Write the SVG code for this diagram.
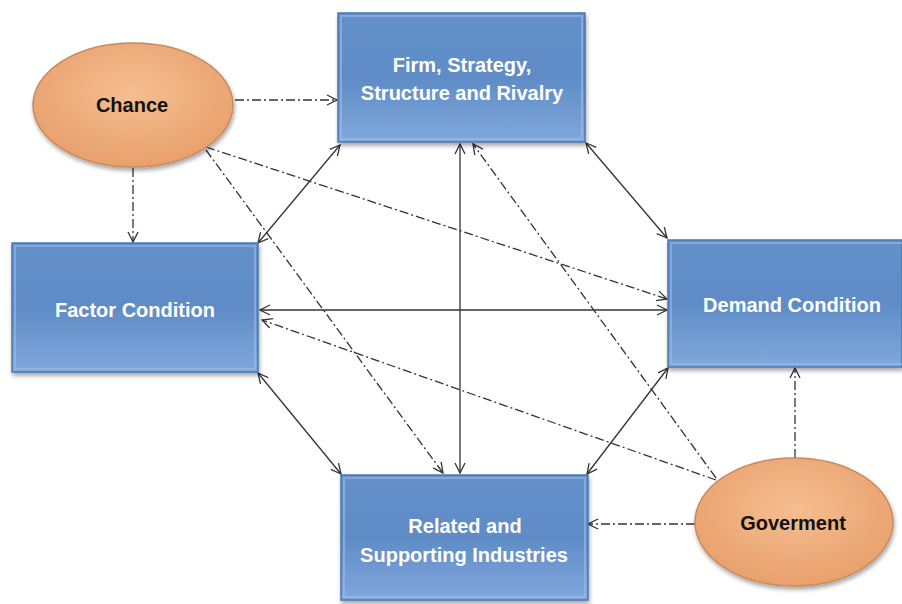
<svg xmlns="http://www.w3.org/2000/svg" width="902" height="604" viewBox="0 0 902 604">
<defs>
  <linearGradient id="boxg" x1="0" y1="0" x2="0" y2="1">
    <stop offset="0" stop-color="#6390c9"/>
    <stop offset="0.5" stop-color="#5f8cc6"/>
    <stop offset="1" stop-color="#80a8dc"/>
  </linearGradient>
  <radialGradient id="ellg" cx="0.5" cy="0.4" r="0.6">
    <stop offset="0" stop-color="#f6be91"/>
    <stop offset="1" stop-color="#e8a06c"/>
  </radialGradient>
  <filter id="sh" x="-10%" y="-10%" width="120%" height="130%">
    <feGaussianBlur in="SourceAlpha" stdDeviation="2"/>
    <feOffset dx="1" dy="3" result="b"/>
    <feComponentTransfer><feFuncA type="linear" slope="0.35"/></feComponentTransfer>
    <feMerge><feMergeNode/><feMergeNode in="SourceGraphic"/></feMerge>
  </filter>
  <marker id="arr" viewBox="0 0 12 12" refX="11" refY="6" markerWidth="12" markerHeight="12" markerUnits="userSpaceOnUse" orient="auto-start-reverse">
    <path d="M1,1 L11,6 L1,11" fill="none" stroke="#333" stroke-width="1.3"/>
  </marker>
</defs>
<style>
  .box { fill: url(#boxg); stroke: #4a78b0; stroke-width: 1.5; filter: url(#sh); }
  .bevel { fill: none; stroke: #9dbde6; stroke-width: 2; opacity: 0.6; }
  .ell { fill: url(#ellg); stroke: #c98a5c; stroke-width: 1.5; filter: url(#sh); }
  .bt { font-family: "Liberation Sans", Arial, sans-serif; font-weight: bold; font-size: 20px; fill: #ffffff; text-anchor: middle; }
  .et { font-family: "Liberation Sans", Arial, sans-serif; font-weight: bold; font-size: 20px; fill: #111111; text-anchor: middle; }
  .solid { stroke: #333; stroke-width: 1.3; fill: none; marker-start: url(#arr); marker-end: url(#arr); }
  .dd { stroke: #333; stroke-width: 1.3; fill: none; stroke-dasharray: 9 3 2 3; marker-end: url(#arr); }
</style>
<rect width="902" height="604" fill="#ffffff"/>

<g id="connectors">
  <line class="solid" x1="340" y1="145" x2="258" y2="243"/>
  <line class="solid" x1="586" y1="143" x2="667" y2="238"/>
  <line class="solid" x1="460" y1="144" x2="460" y2="473"/>
  <line class="solid" x1="260" y1="310" x2="667" y2="310"/>
  <line class="solid" x1="258" y1="373" x2="341" y2="474"/>
  <line class="solid" x1="668" y1="368" x2="587" y2="474"/>
  <line class="dd" x1="235" y1="100" x2="337" y2="100"/>
  <line class="dd" x1="133" y1="168" x2="133" y2="242"/>
  <line class="dd" x1="206" y1="147" x2="667" y2="299"/>
  <line class="dd" x1="206" y1="150" x2="443" y2="473"/>
  <line class="dd" x1="795" y1="458" x2="795" y2="368"/>
  <line class="dd" x1="695" y1="524" x2="588" y2="524"/>
  <line class="dd" x1="716" y1="480" x2="262" y2="320"/>
  <line class="dd" x1="716" y1="478" x2="473" y2="144"/>
</g>

<g id="firm">
  <rect class="box" x="338" y="13" width="247" height="129"/>
  <rect class="bevel" x="341" y="16" width="241" height="123"/>
  <text class="bt" x="462" y="72">Firm, Strategy,</text>
  <text class="bt" x="462" y="100">Structure and Rivalry</text>
</g>

<g id="factor">
  <rect class="box" x="12" y="243" width="246" height="129"/>
  <rect class="bevel" x="15" y="246" width="240" height="123"/>
  <text class="bt" x="135" y="317">Factor Condition</text>
</g>

<g id="demand">
  <rect class="box" x="668" y="240" width="234" height="127"/>
  <rect class="bevel" x="671" y="243" width="240" height="121"/>
  <text class="bt" x="792" y="312">Demand Condition</text>
</g>

<g id="related">
  <rect class="box" x="341" y="475" width="247" height="125"/>
  <rect class="bevel" x="344" y="478" width="241" height="119"/>
  <text class="bt" x="465" y="533">Related and</text>
  <text class="bt" x="464" y="562">Supporting Industries</text>
</g>

<g id="chance">
  <ellipse class="ell" cx="133" cy="105" rx="100" ry="62"/>
  <text class="et" x="132" y="112">Chance</text>
</g>

<g id="goverment">
  <ellipse class="ell" cx="794" cy="522" rx="99" ry="64"/>
  <text class="et" x="793" y="530">Goverment</text>
</g>
</svg>
